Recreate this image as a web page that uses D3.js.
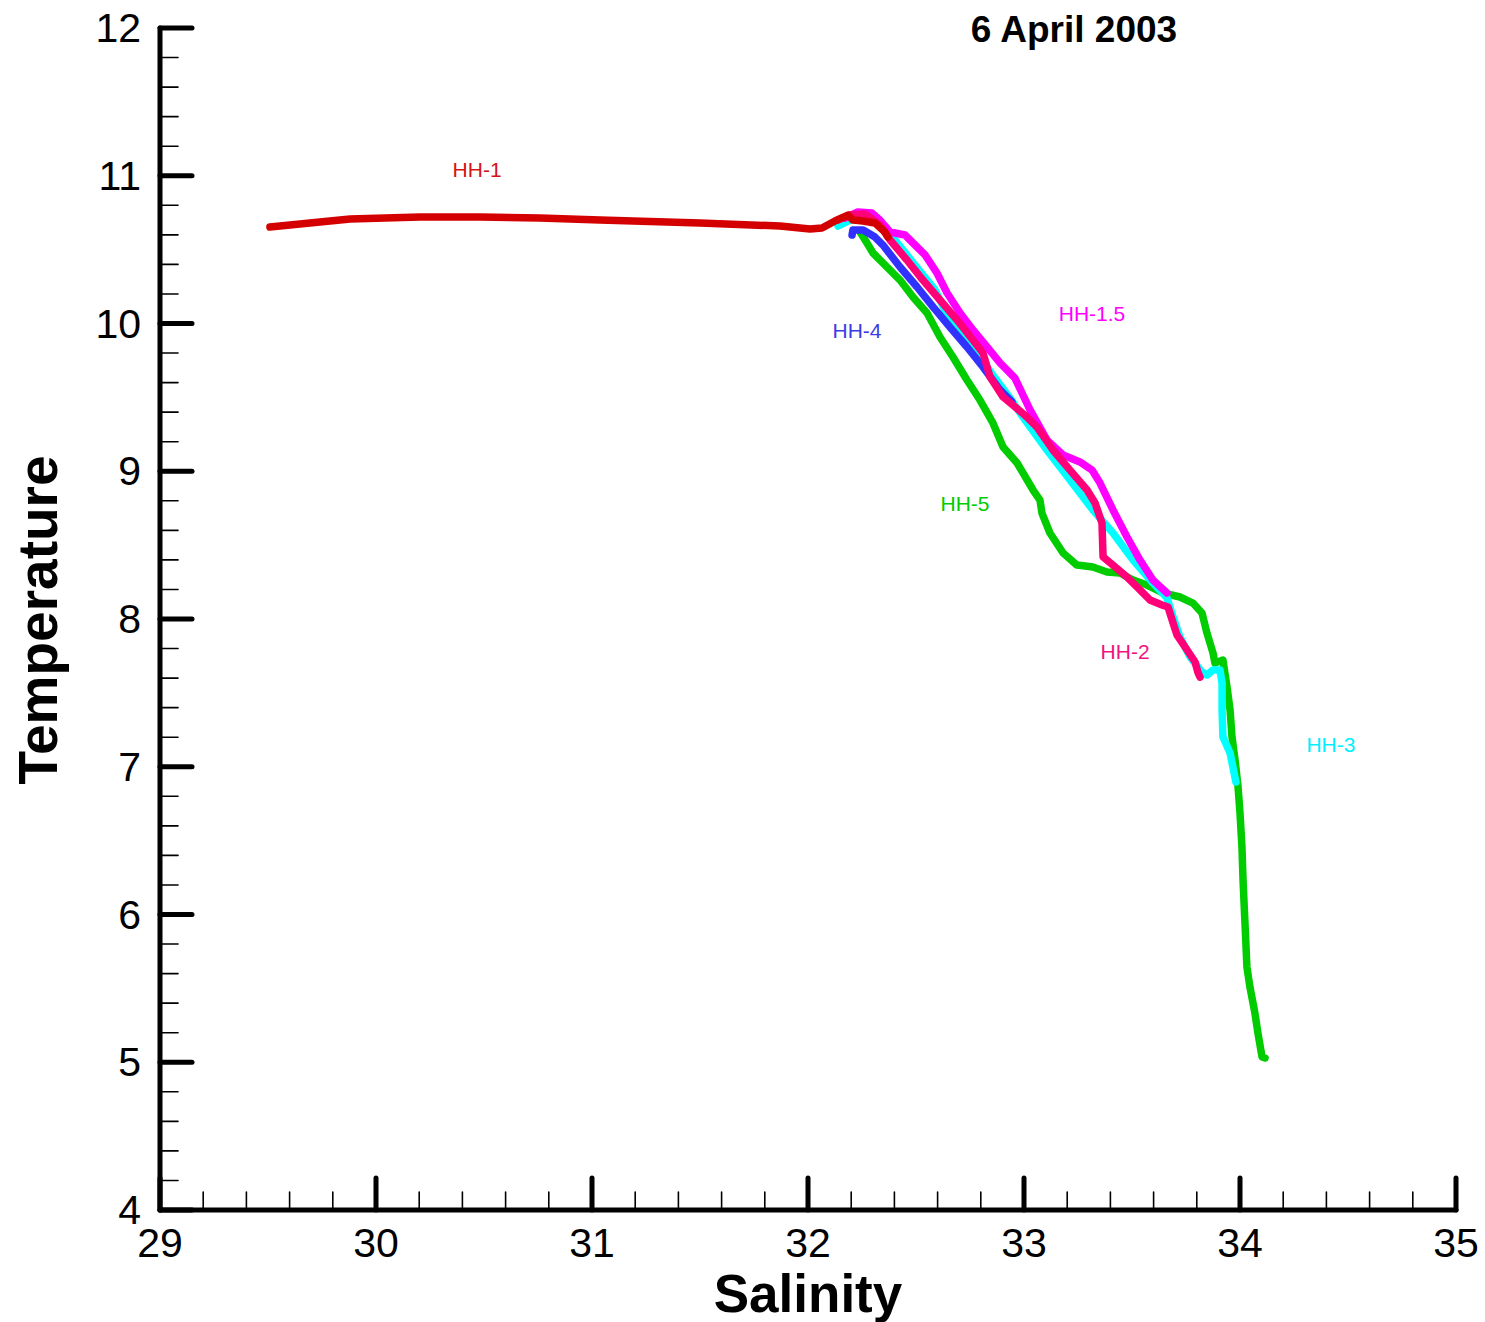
<!DOCTYPE html>
<html>
<head>
<meta charset="utf-8">
<script src="https://cdn.jsdelivr.net/npm/d3@7"></script>
<style>
  html, body { margin: 0; padding: 0; background: #fff; }
  svg { display: block; font-family: "Liberation Sans", Arial, sans-serif; }
</style>
</head>
<body>
<svg id="chart" width="1485" height="1322"></svg>
<script>
// T-S profiles, 6 April 2003: [salinity, temperature]
const hh5 = [[32.241,10.619],[32.273,10.545],[32.301,10.477],[32.366,10.382],[32.426,10.294],[32.486,10.179],[32.551,10.071],[32.611,9.909],[32.671,9.773],[32.736,9.618],[32.796,9.482],[32.856,9.327],[32.903,9.164],[32.968,9.056],[33.042,8.873],[33.074,8.805],[33.083,8.717],[33.120,8.582],[33.181,8.447],[33.245,8.365],[33.319,8.352],[33.384,8.318],[33.444,8.311],[33.505,8.264],[33.569,8.230],[33.644,8.176],[33.722,8.149],[33.782,8.108],[33.824,8.041],[33.847,7.905],[33.875,7.770],[33.884,7.702],[33.921,7.722],[33.940,7.540],[33.954,7.384],[33.963,7.201],[33.977,7.046],[33.991,6.863],[34.000,6.687],[34.009,6.457],[34.014,6.234],[34.023,5.943],[34.032,5.645],[34.046,5.509],[34.069,5.333],[34.083,5.198],[34.102,5.036],[34.116,5.029]];
const hh3 = [[32.139,10.660],[32.194,10.700],[32.287,10.728],[32.343,10.673],[32.403,10.565],[32.495,10.396],[32.588,10.227],[32.634,10.091],[32.713,9.942],[32.773,9.821],[32.856,9.651],[32.935,9.496],[32.995,9.367],[33.106,9.144],[33.213,8.941],[33.319,8.738],[33.412,8.582],[33.505,8.399],[33.597,8.244],[33.662,8.142],[33.690,8.014],[33.722,7.878],[33.769,7.743],[33.824,7.641],[33.847,7.621],[33.875,7.655],[33.907,7.655],[33.917,7.567],[33.917,7.384],[33.921,7.201],[33.954,7.093],[33.981,6.897]];
const hh4 = [[32.204,10.599],[32.208,10.633],[32.255,10.633],[32.310,10.585],[32.347,10.531],[32.426,10.382],[32.505,10.247],[32.579,10.112],[32.657,9.976],[32.736,9.841],[32.810,9.706],[32.889,9.550],[32.944,9.469]];
const hh15 = [[32.171,10.714],[32.231,10.755],[32.296,10.748],[32.333,10.700],[32.380,10.619],[32.449,10.599],[32.505,10.518],[32.542,10.464],[32.597,10.342],[32.644,10.206],[32.704,10.071],[32.764,9.956],[32.829,9.841],[32.889,9.733],[32.958,9.631],[33.028,9.415],[33.106,9.212],[33.181,9.110],[33.259,9.063],[33.315,9.008],[33.352,8.920],[33.412,8.738],[33.477,8.555],[33.537,8.399],[33.597,8.264],[33.662,8.176]];
const hh2 = [[32.139,10.700],[32.194,10.734],[32.264,10.741],[32.333,10.667],[32.380,10.565],[32.458,10.430],[32.532,10.294],[32.611,10.159],[32.690,10.024],[32.764,9.888],[32.810,9.800],[32.843,9.638],[32.903,9.503],[32.949,9.448],[33.014,9.367],[33.060,9.299],[33.134,9.144],[33.213,9.008],[33.292,8.873],[33.329,8.785],[33.361,8.650],[33.366,8.420],[33.412,8.365],[33.477,8.284],[33.523,8.217],[33.583,8.129],[33.639,8.095],[33.667,8.081],[33.690,7.973],[33.708,7.892],[33.755,7.790],[33.792,7.709],[33.806,7.635],[33.815,7.607]];
const hh1 = [[29.509,10.653],[29.694,10.680],[29.880,10.707],[30.204,10.721],[30.481,10.721],[30.759,10.714],[31.037,10.700],[31.500,10.680],[31.870,10.660],[32.009,10.640],[32.065,10.646],[32.125,10.694],[32.185,10.734],[32.208,10.700],[32.255,10.694],[32.310,10.680],[32.356,10.619],[32.370,10.585]];

const stationNames = ["HH-5", "HH-3", "HH-4", "HH-1.5", "HH-2", "HH-1"];
const stationColors = ["#00cc00", "#00ffff", "#3232ff", "#ff00ff", "#ff0078", "#d40000"];
const stationProfiles = [hh5, hh3, hh4, hh15, hh2, hh1];
// label baseline anchor per station, in data units [salinity, temperature]
const labelPos = [[32.727, 8.731], [34.421, 7.100], [32.227, 9.902], [33.315, 10.017], [33.468, 7.729], [30.468, 10.992]];
const labelColors = ["#00cc00", "#00f0ff", "#3c3ce6", "#ff00ff", "#f0147f", "#d41414"];

const xTicks = [29, 30, 31, 32, 33, 34, 35];
const yTicks = [4, 5, 6, 7, 8, 9, 10, 11, 12];

const svg = d3.select("#chart");
const plotLeft = 160, plotRight = 1456, plotTop = 28, plotBottom = 1210;

const x = d3.scaleLinear().domain([29, 35]).range([plotLeft, plotRight]);
const y = d3.scaleLinear().domain([4, 12]).range([plotBottom, plotTop]);

// minor ticks every 0.2
const xMinor = d3.range(29, 35.001, 0.2).filter(v => Math.abs(v - Math.round(v)) > 1e-6);
const yMinor = d3.range(4, 12.001, 0.2).filter(v => Math.abs(v - Math.round(v)) > 1e-6);

const axes = svg.append("g").attr("stroke", "#000").attr("stroke-linecap", "round");

axes.append("g").selectAll("line").data(xMinor).join("line")
  .attr("x1", d => x(d)).attr("x2", d => x(d))
  .attr("y1", plotBottom).attr("y2", plotBottom - 18).attr("stroke-width", 1.6);
axes.append("g").selectAll("line").data(yMinor).join("line")
  .attr("x1", plotLeft).attr("x2", plotLeft + 18)
  .attr("y1", d => y(d)).attr("y2", d => y(d)).attr("stroke-width", 1.6);
axes.append("g").selectAll("line").data(xTicks).join("line")
  .attr("x1", d => x(d)).attr("x2", d => x(d))
  .attr("y1", plotBottom).attr("y2", plotBottom - 32).attr("stroke-width", 5);
axes.append("g").selectAll("line").data(yTicks).join("line")
  .attr("x1", plotLeft).attr("x2", plotLeft + 32)
  .attr("y1", d => y(d)).attr("y2", d => y(d)).attr("stroke-width", 5);
axes.append("line").attr("x1", plotLeft).attr("x2", plotLeft).attr("y1", plotTop).attr("y2", plotBottom).attr("stroke-width", 5);
axes.append("line").attr("x1", plotLeft).attr("x2", plotRight).attr("y1", plotBottom).attr("y2", plotBottom).attr("stroke-width", 5);

// tick labels
svg.append("g").selectAll("text").data(xTicks).join("text")
  .attr("x", d => x(d)).attr("y", plotBottom + 47)
  .attr("text-anchor", "middle").attr("font-size", 41).text(d => d);
svg.append("g").selectAll("text").data(yTicks).join("text")
  .attr("x", plotLeft - 19).attr("y", d => y(d) + 14)
  .attr("text-anchor", "end").attr("font-size", 41).text(d => d);

// axis titles and date
svg.append("text").attr("x", 808).attr("y", 1312).attr("text-anchor", "middle")
  .attr("font-size", 53).attr("font-weight", "bold").text("Salinity");
svg.append("text").attr("transform", "translate(57,620) rotate(-90)").attr("text-anchor", "middle")
  .attr("font-size", 55).attr("font-weight", "bold").text("Temperature");
svg.append("text").attr("x", 1074).attr("y", 42).attr("text-anchor", "middle")
  .attr("font-size", 37).attr("font-weight", "bold").text("6 April 2003");

// profiles
const line = d3.line().x(d => x(d[0])).y(d => y(d[1])).curve(d3.curveLinear);
svg.append("g").selectAll("path").data(stationProfiles).join("path")
  .attr("d", line).attr("fill", "none")
  .attr("stroke", (d, i) => stationColors[i])
  .attr("stroke-width", 7.5).attr("stroke-linejoin", "round").attr("stroke-linecap", "round");

// station labels
svg.append("g").selectAll("text").data(stationNames).join("text")
  .attr("x", (d, i) => x(labelPos[i][0])).attr("y", (d, i) => y(labelPos[i][1]))
  .attr("text-anchor", "middle").attr("font-size", 21)
  .attr("fill", (d, i) => labelColors[i]).text(d => d);
</script>
</body>
</html>
